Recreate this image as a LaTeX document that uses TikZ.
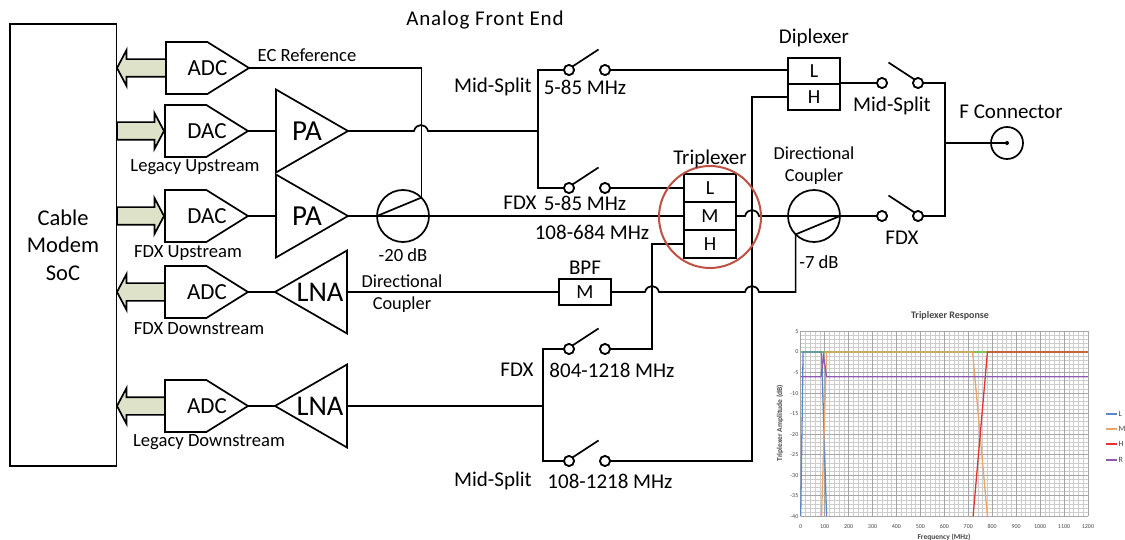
\documentclass[tikz,border=0pt]{standalone}
\usepackage{fontspec}
\setmainfont{Carlito}
\usepackage{tikz}
\usetikzlibrary{shapes.geometric, shapes.symbols, shapes.arrows, positioning}

\definecolor{busfill}{RGB}{221,226,200}
\definecolor{ringred}{RGB}{190,80,68}
\definecolor{gridmaj}{RGB}{165,165,165}
\definecolor{gridmin}{RGB}{205,205,205}
\definecolor{respblue}{RGB}{91,135,200}
\definecolor{resporange}{RGB}{235,165,105}
\definecolor{respred}{RGB}{230,50,50}
\definecolor{resppurple}{RGB}{140,90,175}
\definecolor{respgreen}{RGB}{130,190,90}
\definecolor{charttext}{RGB}{70,70,70}

\begin{document}
\begin{tikzpicture}[x=1pt, y=-1pt, line width=1.7pt,
        every node/.style={inner sep=0pt, outer sep=0pt, font=\fontsize{18.6}{20}\selectfont},
        biglbl/.style={font=\fontsize{21}{23}\selectfont},
        wire/.style={line width=1.7pt},
        busarrow/.style={draw, fill=busfill, single arrow, inner sep=8pt, single arrow head extend=9pt,
            single arrow tip angle=124},
        conv/.style={draw, fill=white, signal, signal to=east, signal pointer angle=64,
            minimum width=83pt, minimum height=52pt},
        convtxt/.style={font=\fontsize{23}{25}\selectfont},
        amp/.style={draw, fill=white, isosceles triangle, isosceles triangle stretches,
            minimum width=83pt, minimum height=72pt},
        cell/.style={draw, rectangle, minimum width=52pt, minimum height=26pt, font=\fontsize{20}{22}\selectfont},
        contact/.style={draw, circle, fill=white, minimum size=10pt},
        coupler/.style={draw, circle, minimum size=52pt},
        tick/.style={font=\fontsize{6}{7}\selectfont, text=charttext},
        axistitle/.style={font=\bfseries\fontsize{7.5}{9}\selectfont, text=charttext}]
    \useasboundingbox (0,0) rectangle (1125,540);

    % left side blocks
    \draw
        (10,24) rectangle (116.5,466);
    \draw
        (63,245) node[align=center, font=\fontsize{22.5}{27.5}\selectfont] (soc) {Cable\\Modem\\SoC};
    \draw
        (117,68) node[busarrow, minimum height=50pt, shape border rotate=180, anchor=tip] (busecref) {};
    \draw
        (164,131) node[busarrow, minimum height=47pt, anchor=tip] (buslegup) {};
    \draw
        (164,216) node[busarrow, minimum height=47pt, anchor=tip] (busfdxup) {};
    \draw
        (117,292) node[busarrow, minimum height=50pt, shape border rotate=180, anchor=tip] (busfdxdown) {};
    \draw
        (117,406) node[busarrow, minimum height=50pt, shape border rotate=180, anchor=tip] (buslegdown) {};
    \draw
        (166,68) node[conv, anchor=west] (adcecref) {};
    \draw
        (165,131) node[conv, anchor=west] (daclegup) {};
    \draw
        (165,216) node[conv, anchor=west] (dacfdxup) {};
    \draw
        (165,292) node[conv, anchor=west] (adcfdxdown) {};
    \draw
        (165,406) node[conv, anchor=west] (adclegdown) {};
    \draw
        (207.5,68) node[convtxt] (txtadcecref) {ADC};
    \draw
        (207,131) node[convtxt] (txtdaclegup) {DAC};
    \draw
        (207,216) node[convtxt] (txtdacfdxup) {DAC};
    \draw
        (207,292) node[convtxt] (txtadcfdxdown) {ADC};
    \draw
        (207,406) node[convtxt] (txtadclegdown) {ADC};

    % amplifiers
    \draw
        (348,131) node[amp, anchor=apex] (palegup) {};
    \draw
        (348,216) node[amp, anchor=apex] (pafdxup) {};
    \draw
        (275,292) node[amp, shape border rotate=180, anchor=apex] (lnafdx) {};
    \draw
        (275,406) node[amp, shape border rotate=180, anchor=apex] (lnaleg) {};
    \draw
        (307,131) node[font=\fontsize{29}{31}\selectfont] (txtpalegup) {PA};
    \draw
        (307,216) node[font=\fontsize{29}{31}\selectfont] (txtpafdxup) {PA};
    \draw
        (320,292) node[font=\fontsize{28.5}{31}\selectfont] (txtlnafdx) {LNA};
    \draw
        (320,406) node[font=\fontsize{28.5}{31}\selectfont] (txtlnaleg) {LNA};

    % couplers, filters
    \draw
        (403,216) node[coupler] (cplrtx) {};
    \draw
        (814,216) node[coupler] (cplrant) {};
    \draw
        (710,188) node[cell, minimum height=28pt] (tril) {L};
    \draw
        (710,216) node[cell, minimum height=28pt] (trim) {M};
    \draw
        (710,244) node[cell, minimum height=28pt] (trih) {H};
    \draw
        (814,71) node[cell] (dipl) {L};
    \draw
        (814,97) node[cell] (diph) {H};
    \draw
        (585,292) node[cell] (bpfm) {M};
    \draw
        (1007,143) node[draw, circle, minimum size=32pt] (fconn) {};
    \fill (fconn) circle (2pt);

    % switches
    \draw
        (569,70) node[contact] (swmidupa) {};
    \draw
        (605,70) node[contact] (swmidupb) {};
    \draw
        (569,188) node[contact] (swfdxupa) {};
    \draw
        (605,188) node[contact] (swfdxupb) {};
    \draw
        (569,349) node[contact] (swfdxdna) {};
    \draw
        (605,349) node[contact] (swfdxdnb) {};
    \draw
        (569,461) node[contact] (swmiddna) {};
    \draw
        (605,461) node[contact] (swmiddnb) {};
    \draw
        (882,83) node[contact] (swantmida) {};
    \draw
        (918,83) node[contact] (swantmidb) {};
    \draw
        (882,216) node[contact] (swantfdxa) {};
    \draw
        (918,216) node[contact] (swantfdxb) {};
    \draw[wire] (swmidupa.north east) -- ++(26,-17);
    \draw[wire] (swfdxupa.north east) -- ++(26,-17);
    \draw[wire] (swfdxdna.north east) -- ++(26,-17);
    \draw[wire] (swmiddna.north east) -- ++(26,-17);
    \draw[wire] (swantmidb.north west) -- ++(-26,-17);
    \draw[wire] (swantfdxb.north west) -- ++(-26,-17);

    % junctions and crossings
    \coordinate (jup) at (538,131);
    \coordinate (jdown) at (543,406);
    \coordinate (jant) at (945,143);
    \coordinate (xecref) at (421,131);
    \coordinate (xtrim) at (752,216);
    \coordinate (xtrih) at (652,292);
    \coordinate (xdiph) at (752,292);

    % wires
    \draw[wire] (adcecref.east) -| (cplrtx.45);
    \draw[wire] (cplrtx.west) -- (cplrtx.45);
    \draw[wire] (daclegup.east) -- (palegup.lower side);
    \draw[wire] (dacfdxup.east) -- (pafdxup.lower side);
    \draw[wire] (adcfdxdown.east) -- (lnafdx.apex);
    \draw[wire] (adclegdown.east) -- (lnaleg.apex);
    \draw[wire] (palegup.apex) -- ([xshift=-7pt]xecref) .. controls +(2,-8) and +(-2,-8) .. ([xshift=7pt]xecref) -- (jup);
    \draw[wire] (swmidupa) -| (jup);
    \draw[wire] (swfdxupa) -| (jup);
    \draw[wire] (swmidupb) -- (dipl.west |- swmidupb);
    \draw[wire] (swfdxupb) -- (tril.west);
    \draw[wire] (pafdxup.apex) -- (trim.west);
    \draw[wire] (trim.east) -- ([xshift=-7pt]xtrim) .. controls +(2,-8) and +(-2,-8) .. ([xshift=7pt]xtrim) -- (swantfdxa);
    \draw[wire] (cplrant.east) -- (cplrant.225);
    \draw[wire] (lnafdx.lower side) -- (bpfm.west);
    \draw[wire] (bpfm.east) -- ([xshift=-7pt]xtrih) .. controls +(2,-8) and +(-2,-8) .. ([xshift=7pt]xtrih)
        -- ([xshift=-7pt]xdiph) .. controls +(2,-8) and +(-2,-8) .. ([xshift=7pt]xdiph) -| (cplrant.225);
    \draw[wire] (swfdxdnb) -| (xtrih) |- (trih.west);
    \draw[wire] (swmiddnb) -| (xdiph) |- (diph.west);
    \draw[wire] (lnaleg.lower side) -- (jdown);
    \draw[wire] (swfdxdna) -| (jdown);
    \draw[wire] (swmiddna) -| (jdown);
    \draw[wire] (swantmida) -- (swantmida -| dipl.east);
    \draw[wire] (swantmidb) -| (jant);
    \draw[wire] (swantfdxb) -| (jant);
    \draw[wire] (jant) -- (fconn.center);
    \draw[wire, line width=2.3pt] (505,131) -- (jup);
    \draw[wire, line width=2.3pt] (510,406) -- (jdown);
    \draw[wire, line width=2.3pt] (jant) -- (977,143);

    % redraw contacts above the wires
    \foreach \sw in {swmidupa,swmidupb,swfdxupa,swfdxupb,swfdxdna,swfdxdnb,swmiddna,swmiddnb,swantmida,swantmidb,swantfdxa,swantfdxb}
        \node[contact] at (\sw) {};

    \draw[ringred, line width=2pt]
        (710,217) circle (51);

    % labels
    \draw
        (485,20) node[font=\fontsize{21}{23}\selectfont\addfontfeature{LetterSpace=4}] (title) {Analog Front End};
    \draw
        (307,55) node (lblecref) {EC Reference};
    \draw
        (195,167) node (lbllegup) {Legacy Upstream};
    \draw
        (188,253) node (lblfdxup) {FDX Upstream};
    \draw
        (199,329) node (lblfdxdown) {FDX Downstream};
    \draw
        (209,442) node (lbllegdown) {Legacy Downstream};
    \draw
        (403,255) node (lbltxdb) {-20 dB};
    \draw
        (402,294) node[align=center, font=\fontsize{18.3}{22}\selectfont] (lbldcplr) {Directional\\Coupler};
    \draw
        (493,87) node[biglbl] (lblmidup) {Mid-Split};
    \draw
        (585,87) node[biglbl] (lbllowa) {5-85 MHz};
    \draw
        (520,203) node[biglbl] (lblfdxa) {FDX};
    \draw
        (585,203) node[biglbl] (lbllowb) {5-85 MHz};
    \draw
        (592,232) node[biglbl] (lblmidband) {108-684 MHz};
    \draw
        (710,159) node[biglbl] (lbltri) {Triplexer};
    \draw
        (814,166) node[align=center, font=\fontsize{18.3}{22}\selectfont] (lblantcplr) {Directional\\Coupler};
    \draw
        (819,262) node (lblantdb) {-7 dB};
    \draw
        (814,38) node[biglbl] (lbldip) {Diplexer};
    \draw
        (892,106) node[biglbl] (lblantmid) {Mid-Split};
    \draw
        (902,238) node[biglbl] (lblantfdx) {FDX};
    \draw
        (1011,112) node[biglbl] (lblfconn) {F Connector};
    \draw
        (585,268) node[biglbl] (lblbpf) {BPF};
    \draw
        (517,370) node[biglbl] (lblfdxb) {FDX};
    \draw
        (612,370) node[biglbl] (lblhia) {804-1218 MHz};
    \draw
        (493,481) node[biglbl] (lblmiddn) {Mid-Split};
    \draw
        (610,481) node[biglbl] (lblhib) {108-1218 MHz};

    % response chart
    \begin{scope}[shift={(800.7,352)}, x=0.2394pt, y=4.11pt]
        \foreach \f in {0,20,...,1200}
            \draw[gridmin, line width=0.5pt] (\f,-40) -- (\f,5);
        \foreach \d in {-40,-39,...,5}
            \draw[gridmin, line width=0.8pt] (0,\d) -- (1200,\d);
        \foreach \f in {0,100,...,1200}
            \draw[gridmaj, line width=0.8pt] (\f,-40) -- (\f,5);
        \foreach \d in {-40,-35,...,5}
            \draw[gridmaj, line width=0.8pt] (0,\d) -- (1200,\d);
        \foreach \f in {0,100,...,1200}
            \node[tick] at (\f,-42.5) {\f};
        \foreach \d in {-40,-35,...,5}
            \node[tick, anchor=east] at (-10,\d) {\d};
        \draw[respgreen, line width=1.3pt] (0,0) -- (1200,0);
        \draw[respblue, line width=1.3pt] (0,-40) -- (10,0) -- (87,0) -- (108,-40);
        \draw[resporange, line width=1.3pt] (87,-40) -- (108,0) -- (718,0) -- (780,-40);
        \draw[respred, line width=1.3pt] (720,-40) -- (780,0) -- (1200,0);
        \draw[resppurple, line width=1.3pt] (0,-6) -- (85,-6) -- (95,-1) -- (108,-6) -- (1200,-6);
    \end{scope}
    \draw
        (950,316) node[axistitle, font=\bfseries\fontsize{10}{12}\selectfont] (charttitle) {Triplexer Response};
    \draw
        (944,537) node[axistitle] (chartxlabel) {Frequency (MHz)};
    \draw
        (780,423) node[axistitle, rotate=90] (chartylabel) {Triplexer Amplitude (dB)};
    \draw[respblue, line width=1.3pt] (1106,414) -- (1117,414) node[tick, anchor=west, xshift=1.5pt, font=\fontsize{8}{9}\selectfont] (legl) {L};
    \draw[resporange, line width=1.3pt] (1106,429) -- (1117,429) node[tick, anchor=west, xshift=1.5pt, font=\fontsize{8}{9}\selectfont] (legm) {M};
    \draw[respred, line width=1.3pt] (1106,444) -- (1117,444) node[tick, anchor=west, xshift=1.5pt, font=\fontsize{8}{9}\selectfont] (legh) {H};
    \draw[resppurple, line width=1.3pt] (1106,460) -- (1117,460) node[tick, anchor=west, xshift=1.5pt, font=\fontsize{8}{9}\selectfont] (legr) {R};
\end{tikzpicture}
\end{document}
